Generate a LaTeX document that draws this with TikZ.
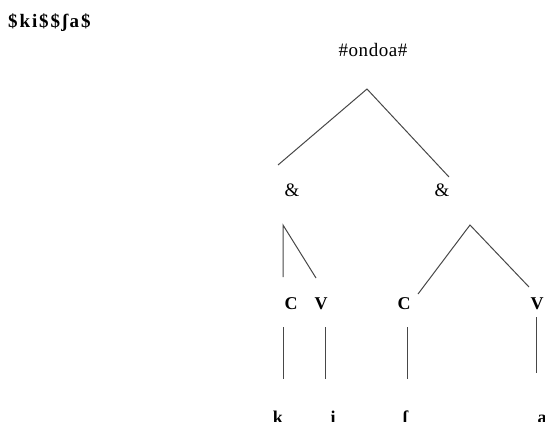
\documentclass[tikz,border=0pt]{standalone}
\usepackage{fontspec}
\setmainfont{Liberation Serif}
\begin{document}
\begin{tikzpicture}[x=1pt,y=-1pt,
  lbl/.style={inner sep=0pt, font=\fontsize{19}{21}\selectfont\addfontfeature{LetterSpace=3}},
  lblb/.style={inner sep=0pt, font=\fontsize{18}{20}\selectfont\bfseries},
  topstr/.style={inner sep=0pt, font=\fontsize{19}{21}\selectfont\bfseries\addfontfeature{LetterSpace=10}},
  br/.style={draw=black!72, line width=1pt}]
\useasboundingbox (0,0) rectangle (545,421);
\clip (0,0) rectangle (545,421);
\node[topstr, anchor=base west] (str) at (8,27) {\$ki\$\$ʃa\$};
\node[lbl, anchor=base] (word) at (373,56) {\#ondoa\#};
\coordinate (apex) at (367,89);
\coordinate (l1) at (278,165);
\coordinate (r1) at (449,177);
\draw[br] (l1) -- (apex) -- (r1);
\node[lbl, anchor=base] (s1) at (292,196) {\&};
\node[lbl, anchor=base] (s2) at (442,196) {\&};
% left syllable
\coordinate (a1) at (283,225);
\coordinate (a1c) at (283,277);
\coordinate (a1v) at (316,278);
\draw[br] (a1c) -- (a1) -- (a1v);
% right syllable
\coordinate (a2) at (470,225);
\coordinate (a2c) at (418,294);
\coordinate (a2v) at (529,287);
\draw[br] (a2c) -- (a2) -- (a2v);
\node[lblb, anchor=base] (c1) at (291,309) {C};
\node[lblb, anchor=base] (v1) at (321,309) {V};
\node[lblb, anchor=base] (c2) at (404,309) {C};
\node[lblb, anchor=base] (v2) at (537,309) {V};
\coordinate (c1t) at (283,327); \coordinate (c1b) at (283,379);
\coordinate (v1t) at (325,327); \coordinate (v1b) at (325,379);
\coordinate (c2t) at (407,327); \coordinate (c2b) at (407,379);
\coordinate (v2t) at (536,317); \coordinate (v2b) at (536,373);
\draw[br] (c1t) -- (c1b);
\draw[br] (v1t) -- (v1b);
\draw[br] (c2t) -- (c2b);
\draw[br] (v2t) -- (v2b);
\node[lblb, anchor=base] (k) at (278,423) {k};
\node[lblb, anchor=base] (i) at (333,423) {i};
\node[lblb, anchor=base] (sh) at (405,423) {ʃ};
\node[lblb, anchor=base] (a) at (542,423) {a};
\end{tikzpicture}
\end{document}
